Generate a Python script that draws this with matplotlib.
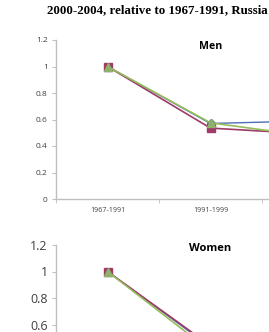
import matplotlib.pyplot as plt

# categories and series (relative to 1967-1991)
periods = ["1967-1991", "1991-1999", "2000-2004"]
men_blue = [1.0, 0.57, 0.59]
men_red = [1.0, 0.535, 0.49]
men_green = [1.0, 0.575, 0.47]
women_blue = [1.0, 0.43, 0.45]
women_red = [1.0, 0.44, 0.46]
women_green = [1.0, 0.40, 0.42]
y_ticks = [0, 0.2, 0.4, 0.6, 0.8, 1, 1.2]

blue = "#4F6DB8"
red = "#9E3B67"
green = "#95BD5A"
axis_gray = "#BFBFBF"
label_gray = "#404040"

fig = plt.figure(figsize=(2.69, 3.32), dpi=100)
fig.text(0.585, 0.97, "2000-2004, relative to 1967-1991, Russia",
         ha="center", va="center", fontsize=9.3, fontweight="bold",
         family="Liberation Serif")


def draw_panel(ax, b, r, g, title, tick_size, title_size, title_y):
    x = range(len(periods))
    ax.plot(x, b, color=blue, lw=1.0, marker="D", ms=4, mfc=blue, mec=blue)
    ax.plot(x, r, color=red, lw=1.2, marker="s", ms=6, mfc=red, mec=red)
    ax.plot(x, g, color=green, lw=1.2, marker="^", ms=6, mfc="#8FB26A", mec="#8FB26A")
    ax.set_xlim(-0.5, len(periods) - 0.5)
    ax.set_ylim(0, 1.2)
    ax.set_yticks(y_ticks)
    ax.set_yticklabels(["0", "0.2", "0.4", "0.6", "0.8", "1", "1.2"])
    ax.set_xticks(list(x))
    ax.set_xticklabels(periods)
    ax.set_xticks([i - 0.5 for i in range(len(periods) + 1)], minor=True)
    ax.tick_params(axis="x", which="major", length=0, pad=6,
                   labelsize=tick_size * 0.85, colors=label_gray)
    ax.tick_params(axis="x", which="minor", length=3, color=axis_gray)
    ax.tick_params(axis="y", length=3, color=axis_gray, labelsize=tick_size,
                   labelcolor=label_gray, pad=3)
    for s in ["top", "right"]:
        ax.spines[s].set_visible(False)
    for s in ["left", "bottom"]:
        ax.spines[s].set_color(axis_gray)
        ax.spines[s].set_linewidth(1.0)
    ax.text(1, title_y, title, ha="center", va="center", fontsize=title_size,
            fontweight="bold", family="Open Sans")
    for lab in ax.get_xticklabels() + ax.get_yticklabels():
        lab.set_family("Open Sans")


ax1 = fig.add_axes([56 / 269, 1 - 199 / 332, 309 / 269, 159 / 332])
draw_panel(ax1, men_blue, men_red, men_green, "Men", 6, 7.6, 1.15)

ax2 = fig.add_axes([56 / 269, 1 - 404 / 332, 309 / 269, 159 / 332])
draw_panel(ax2, women_blue, women_red, women_green, "Women", 9, 8, 1.17)

fig.savefig("out.png", dpi=100)
